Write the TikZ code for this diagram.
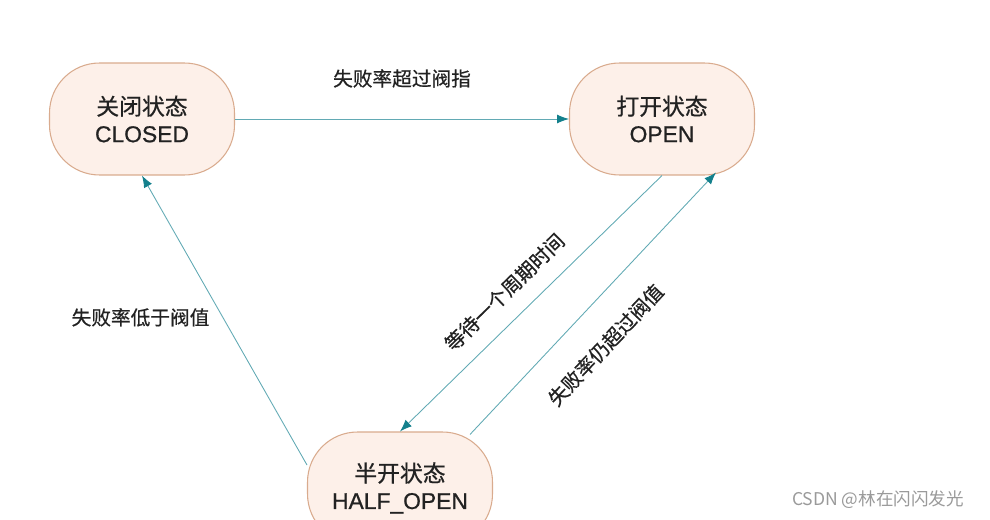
\documentclass[tikz,border=0pt]{standalone}
\usepackage{fontspec}
\setmainfont[FakeBold=0.6]{Noto Sans CJK SC}
\newfontfamily\latinfont[FakeBold=0.8]{Liberation Sans}
\newfontfamily\markfont{Noto Sans CJK SC}
\usetikzlibrary{positioning, calc, arrows.meta}

\definecolor{stateFill}{HTML}{FDF0E9}
\definecolor{stateEdge}{HTML}{D9AB8E}
\definecolor{flowLine}{HTML}{62AAB4}
\definecolor{flowTip}{HTML}{13808C}
\definecolor{labelText}{HTML}{222222}
\definecolor{markText}{HTML}{9A9A9A}

\begin{document}
\begin{tikzpicture}[x=0.02cm, y=-0.02cm]
    % Fix the canvas to the size of the picture
    \useasboundingbox (0,0) rectangle (990,520);

    % Define the styles for the states and the transitions
    \tikzset{
        statebox/.style={draw=stateEdge, fill=stateFill, line width=0.6pt, rounded corners=1cm,
            minimum width=3.7cm, minimum height=2.24cm, align=center, text=labelText,
            font=\fontsize{13}{15.5}\selectfont},
        flow/.style={draw=flowLine, line width=0.5pt, -{Latex[length=2.4mm, width=1.8mm, color=flowTip]}},
        flowlabel/.style={inner sep=0pt, text=labelText, font=\fontsize{11.2}{13}\selectfont}
    }

    % Draw the three states of the breaker
    \node[statebox] (closed) at (142,119) {关闭状态\\\latinfont CLOSED};
    \node[statebox] (open) at (662,119) {打开状态\\\latinfont OPEN};
    \node[statebox] (half) at (400,488) {半开状态\\\latinfont HALF\_OPEN};

    % Draw the transitions with their labels
    \draw[flow] (closed.east) -- (open.west)
        node[flowlabel, midway, above=0.62cm] {失败率超过阀指};
    \draw[flow] (open.south) -- (half.north)
        node[flowlabel, pos=0.53, sloped, above=0.34cm] {等待一个周期时间};
    \draw[flow] ($(half.north)+(70,3)$) -- ($(open.south)+(54,-3)$)
        node[flowlabel, pos=0.44, sloped, below=0.56cm] {失败率仍超过阀值};
    \draw[flow] ($(half.west)+(0,-23)$) -- (closed.south)
        node[flowlabel, pos=0.51, left=0.26cm] {失败率低于阀值};

    % Draw the watermark
    \node[text=markText, font=\markfont\fontsize{10}{12}\selectfont] (watermark) at (878,500) {CSDN @林在闪闪发光};
\end{tikzpicture}
\end{document}
